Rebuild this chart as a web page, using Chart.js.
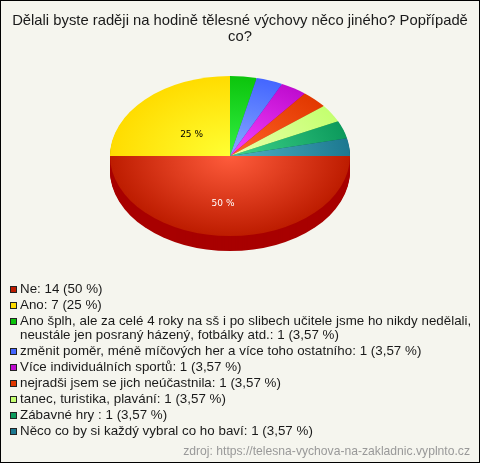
<!DOCTYPE html>
<html>
<head>
<meta charset="utf-8">
<script src="https://cdn.jsdelivr.net/npm/chart.js@4/dist/chart.umd.min.js"></script>
<style>
html, body { margin: 0; padding: 0; background: #f5f5ee; }
#wrap { position: relative; width: 480px; height: 463px; overflow: hidden; font-family: "Liberation Sans", Arial, sans-serif; color: #1a1a1a; }
#frame { position: absolute; left: 0; top: 0; width: 478px; height: 461px; border: 1px solid #000; pointer-events: none; }
#chart { position: absolute; left: 0; top: 0; }
#title { position: absolute; left: 6px; top: 12px; width: 468px; text-align: center; font-size: 14.8px; line-height: 16px; }
#legend { position: absolute; left: 10px; top: 281.5px; width: 462px; font-size: 13.33px; line-height: 14.5px; letter-spacing: 0.02px; }
.row { position: relative; padding-left: 10px; margin-bottom: 1.5px; }
.box { position: absolute; left: 0; top: 4px; width: 5px; height: 5px; border: 1px solid #222; }
#source { position: absolute; right: 10px; top: 444px; font-size: 12.15px; color: #999; }
</style>
</head>
<body>
<div id="wrap">
  <canvas id="chart" width="480" height="463"></canvas>
  <div id="title"></div>
  <div id="legend"></div>
  <div id="source"></div>
  <div id="frame"></div>
</div>
<script>
var titleText = "Dělali byste raději na hodině tělesné výchovy něco jiného? Popřípadě co?";
var sourceText = "zdroj: https://telesna-vychova-na-zakladnic.vyplnto.cz";
var labels = [
    "Ne",
    "Ano",
    "Ano šplh, ale za celé 4 roky na sš i po slibech učitele jsme ho nikdy nedělali, neustále jen posraný házený, fotbálky atd.",
    "změnit poměr, méně míčových her a více toho ostatního",
    "Více individuálních sportů",
    "nejradši jsem se jich neúčastnila",
    "tanec, turistika, plavání",
    "Zábavné hry ",
    "Něco co by si každý vybral co ho baví"
];
var values = [14, 7, 1, 1, 1, 1, 1, 1, 1];
var percents = ["50", "25", "3,57", "3,57", "3,57", "3,57", "3,57", "3,57", "3,57"];
var edgeColors = ["#bd1c00", "#ffdc00", "#0cc40c", "#4466ff", "#bf0ccf", "#e23800", "#c4ff70", "#0c9a5c", "#1c7890"];
var innerColors = ["#ff5c3c", "#ffff33", "#33f044", "#88aaff", "#f544ff", "#ff6428", "#eaffaa", "#40d48c", "#50b4c4"];
var sideColors = ["#a80000", "#c8a800", "#009000", "#2040c0", "#900090", "#b02000", "#90c040", "#006a30", "#005060"];
var labelShift = [[-7, 8], [4, 7]];

var squash = 2 / 3;
var depth = 15;

// slices are drawn round, then flattened around the centre
var piePerspective = {
    id: "piePerspective",
    beforeDatasetsDraw: function (chart) {
        var ctx = chart.ctx;
        var arcs = chart.getDatasetMeta(0).data;
        var cx = arcs[0].x, cy = arcs[0].y;
        ctx.save();
        ctx.translate(cx, cy);
        ctx.scale(1, squash);
        ctx.translate(-cx, -cy);
        for (var d = depth; d > 0; d--) {
            arcs.forEach(function (arc, i) {
                ctx.fillStyle = sideColors[i];
                ctx.beginPath();
                ctx.moveTo(cx, cy + d / squash);
                ctx.arc(cx, cy + d / squash, arc.outerRadius, arc.startAngle, arc.endAngle);
                ctx.closePath();
                ctx.fill();
            });
        }
    },
    afterDatasetsDraw: function (chart) {
        var ctx = chart.ctx;
        ctx.restore();
        var arcs = chart.getDatasetMeta(0).data;
        ctx.save();
        ctx.font = "9px 'DejaVu Sans'";
        ctx.textAlign = "center";
        ctx.textBaseline = "middle";
        for (var i = 0; i < 2; i++) {
            var p = arcs[i].tooltipPosition();
            ctx.fillStyle = i == 0 ? "#fff" : "#000";
            ctx.fillText(percents[i] + " %", p.x + labelShift[i][0], arcs[0].y + (p.y - arcs[0].y) * squash + labelShift[i][1]);
        }
        ctx.restore();
    }
};

function sliceGradient(context) {
    var area = context.chart.chartArea;
    if (!area) return edgeColors[context.dataIndex];
    var x = (area.left + area.right) / 2;
    var y = (area.top + area.bottom) / 2;
    var r = Math.min(area.width, area.height) / 2;
    var g = context.chart.ctx.createRadialGradient(x, y, 0, x, y, r);
    g.addColorStop(0, innerColors[context.dataIndex]);
    g.addColorStop(1, edgeColors[context.dataIndex]);
    return g;
}

var chart = new Chart(document.getElementById("chart").getContext("2d"), {
    type: "pie",
    data: {
        labels: labels,
        datasets: [{
            data: values,
            backgroundColor: sliceGradient,
            borderWidth: 0
        }]
    },
    options: {
        responsive: false,
        animation: false,
        rotation: 90,
        layout: { padding: { left: 110, right: 130, top: 36, bottom: 187 } },
        plugins: {
            legend: { display: false },
            title: { display: false },
            tooltip: { enabled: false }
        }
    },
    plugins: [piePerspective]
});

document.getElementById("title").textContent = titleText;
document.getElementById("source").textContent = sourceText;

var legendEl = document.getElementById("legend");
labels.forEach(function (label, i) {
    var row = document.createElement("div");
    row.className = "row";
    var box = document.createElement("span");
    box.className = "box";
    box.style.background = edgeColors[i];
    row.appendChild(box);
    row.appendChild(document.createTextNode(label + ": " + values[i] + " (" + percents[i] + " %)"));
    legendEl.appendChild(row);
});
</script>
</body>
</html>
